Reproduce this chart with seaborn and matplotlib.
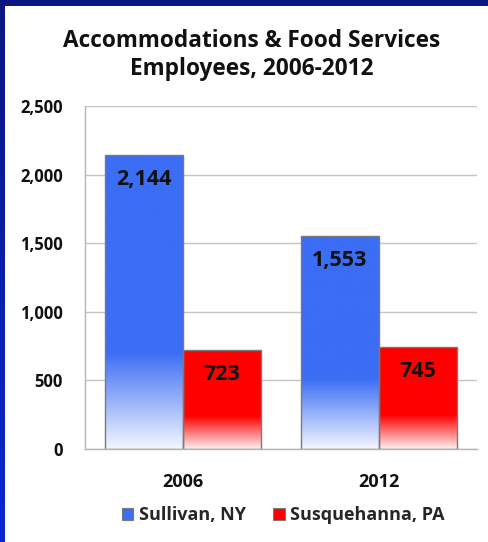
import numpy as np
import pandas as pd
import matplotlib
matplotlib.use('Agg')
import matplotlib.pyplot as plt
import matplotlib.colors as mcolors
from matplotlib.patches import Rectangle
import seaborn as sns

# Data
years = ['2006', '2012']
sullivan = [2144, 1553]
susquehanna = [723, 745]
counties = ['Sullivan, NY', 'Susquehanna, PA']
yticks = [0, 500, 1000, 1500, 2000, 2500]

df = pd.DataFrame({
    'Year': years * 2,
    'Employees': sullivan + susquehanna,
    'County': [counties[0]] * 2 + [counties[1]] * 2,
})

blue = '#3b6df5'
red = '#ff0000'
edge = '#7a7a7a'

sns.set_style('white')
plt.rcParams['font.family'] = ['Open Sans', 'DejaVu Sans']
plt.rcParams['font.weight'] = 'bold'

fig = plt.figure(figsize=(4.88, 5.42), dpi=100)
fig.patch.set_facecolor('white')

# dark blue frame: top band and left gradient strip
fig.add_artist(Rectangle((0, 1 - 6 / 542), 1, 6 / 542, transform=fig.transFigure,
                         facecolor='#0b1680', edgecolor='none', zorder=5))
strip = fig.add_axes([0, 0, 5 / 488, 1])
grad = np.linspace(0, 1, 256).reshape(-1, 1)
strip_cmap = mcolors.LinearSegmentedColormap.from_list('frame', ['#0a28d2', '#0b1680'])
strip.imshow(grad, aspect='auto', cmap=strip_cmap, origin='lower')
strip.axis('off')

ax = fig.add_axes([85 / 488, 93 / 542, 392 / 488, 343 / 542])
sns.barplot(data=df, x='Year', y='Employees', hue='County', palette=[blue, red],
            width=0.8, edgecolor=edge, linewidth=1, legend=False, ax=ax)

# replace flat fill with a fade to white at the bottom of each bar
for container, color in zip(ax.containers, [blue, red]):
    rgb = np.array(mcolors.to_rgb(color))
    t = np.linspace(0, 1, 256)
    frac = np.clip(0.06 + t / 0.35, 0, 1)
    img = (1 - frac)[:, None] * np.ones(3) + frac[:, None] * rgb
    img = img.reshape(-1, 1, 3)
    for bar in container:
        x0, w, h = bar.get_x(), bar.get_width(), bar.get_height()
        im = ax.imshow(img, extent=[x0, x0 + w, 0, h], origin='lower',
                       aspect='auto', zorder=bar.get_zorder() - 0.1)
        im.set_clip_path(bar)
        bar.set_facecolor('none')
        ax.annotate(f'{int(h):,}', (x0 + w / 2, h), xytext=(0, -18),
                    textcoords='offset points', ha='center', va='center',
                    fontsize=15.5, fontweight='bold', color='#111111')

ax.set_xlim(-0.5, 1.5)
ax.set_ylim(0, 2500)
ax.set_yticks(yticks)
ax.set_yticklabels([f'{v:,}' for v in yticks])
ax.yaxis.grid(True, color='#c4c4c4', linewidth=1)
ax.set_axisbelow(True)
ax.set_xlabel('')
ax.set_ylabel('')
for s in ['top', 'right']:
    ax.spines[s].set_visible(False)
for s in ['left', 'bottom']:
    ax.spines[s].set_color('#b5b5b5')
    ax.spines[s].set_linewidth(1)
ax.tick_params(axis='y', length=6, width=1, color='#b5b5b5', pad=10,
               labelsize=12, labelcolor='#111111')
ax.tick_params(axis='x', which='major', length=0, pad=17, labelsize=13,
               labelcolor='#111111')
ax.set_xticks([-0.5, 0.5, 1.5], minor=True)
ax.tick_params(axis='x', which='minor', length=5, width=1, color='#b5b5b5')
for lab in ax.get_xticklabels() + ax.get_yticklabels():
    lab.set_fontweight('bold')

fig.text(0.515, 1 - 55 / 542, 'Accommodations & Food Services\nEmployees, 2006-2012',
         ha='center', va='center', fontsize=16.3, fontweight='bold',
         color='#111111', linespacing=1.25)

handles = [Rectangle((0, 0), 1, 1, facecolor=c, edgecolor=edge, linewidth=0.8)
           for c in [blue, red]]
fig.legend(handles, counties, loc='center', bbox_to_anchor=(0.58, 1 - 515 / 542),
           ncol=2, frameon=False, handlelength=0.65, handleheight=0.65,
           handletextpad=0.3, columnspacing=1.5, prop={'weight': 'bold', 'size': 13})

fig.savefig('out.png', dpi=100)
